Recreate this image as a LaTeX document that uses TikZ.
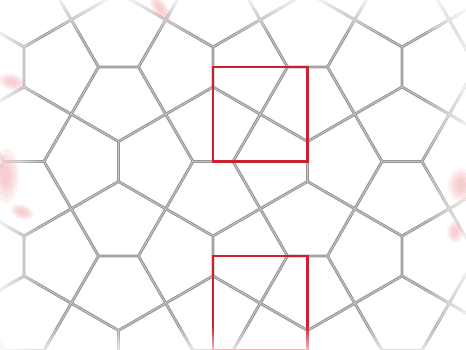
\documentclass[tikz,border=0pt]{standalone}
\usepackage{xcolor}
\usepackage{tikz}
\usetikzlibrary{calc,fadings}
\definecolor{tilegray}{RGB}{150,150,150}
\definecolor{tilelight}{RGB}{196,196,196}
\definecolor{framered}{RGB}{204,32,48}
\definecolor{blushpink}{RGB}{240,140,150}

% soft pink blur: centre, angle, radii
\newcommand{\blushblob}[4]{%
  \foreach \r in {1,0.8,0.6,0.4}
    \fill[blush, rotate around={#2:#1}] #1 ellipse ({\r*#3} and {\r*#4});}

\begin{document}
\begin{tikzpicture}[x=1pt, y=-1pt,
    tileedge/.style={line width=2.9pt, tilegray, line cap=round, line join=round},
    tileshine/.style={line width=0.9pt, tilelight, line cap=round, line join=round},
    frame/.style={line width=2.8pt, framered},
    blush/.style={fill=blushpink, opacity=0.12}]
    \useasboundingbox (0,0) rectangle (466,350);
    \fill[white] (0,0) rectangle (466,350);
    \clip (0,0) rectangle (466,350);

    % lattice spacing, half spacing, half length of a pair
    \def\s{94.5}
    \def\h{47.25}
    \def\p{20}

    % Cairo tiling: every pair of 3-valent vertices with its four spokes
    \foreach \look in {tileedge,tileshine} {
      \foreach \i in {-1,...,5} {
        \foreach \j in {-1,...,4} {
          \coordinate (c) at ({24+\s*\i},{67+\s*\j});
          \pgfmathtruncatemacro{\odd}{mod(\i+\j+10,2)}
          \ifnum\odd=1
            % horizontal pair
            \coordinate (a) at ($(c)+(-\p,0)$);
            \coordinate (b) at ($(c)+(\p,0)$);
            \coordinate (a1) at ($(c)+(-\h,-\h)$);
            \coordinate (a2) at ($(c)+(-\h,\h)$);
            \coordinate (b1) at ($(c)+(\h,-\h)$);
            \coordinate (b2) at ($(c)+(\h,\h)$);
          \else
            % vertical pair
            \coordinate (a) at ($(c)+(0,-\p)$);
            \coordinate (b) at ($(c)+(0,\p)$);
            \coordinate (a1) at ($(c)+(-\h,-\h)$);
            \coordinate (a2) at ($(c)+(\h,-\h)$);
            \coordinate (b1) at ($(c)+(-\h,\h)$);
            \coordinate (b2) at ($(c)+(\h,\h)$);
          \fi
          \draw[\look] (a1) -- (a) -- (a2) (a) -- (b) (b1) -- (b) -- (b2);
        }
      }
    }

    % Red frames
    \coordinate (f1) at (213,67);
    \coordinate (f2) at (307.5,161.5);
    \coordinate (f3) at (213,256);
    \coordinate (f4) at (307.5,350.5);
    \draw[frame] (f1) rectangle (f2);
    \draw[frame] (f3) rectangle (f4);

    % Faded borders
    \fill[white, path fading=east] (-10,0) rectangle (42,350);
    \fill[white, path fading=west] (424,0) rectangle (476,350);
    \fill[white, path fading=south] (0,-8) rectangle (466,34);
    \fill[white, path fading=north] (0,326) rectangle (466,360);

    % Pink blurs
    \blushblob{(12,82)}{-15}{14}{8}
    \blushblob{(6,176)}{0}{13}{27}
    \blushblob{(22,212)}{-20}{12}{7}
    \blushblob{(160,8)}{-55}{16}{7}
    \blushblob{(461,185)}{0}{13}{17}
    \blushblob{(455,232)}{0}{8}{11}
\end{tikzpicture}
\end{document}
